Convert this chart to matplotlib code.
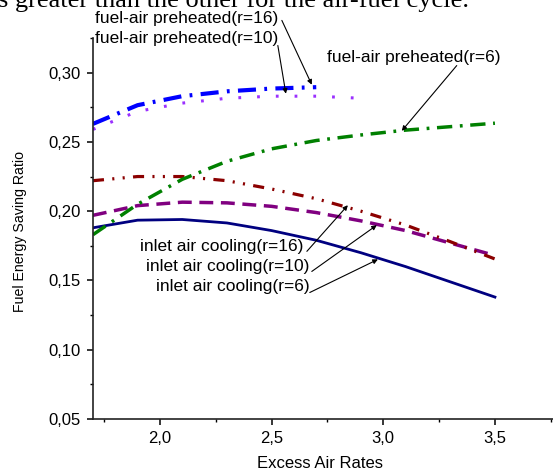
import numpy as np
import matplotlib
matplotlib.use('Agg')
import matplotlib.pyplot as plt
from matplotlib.ticker import MultipleLocator

plt.rcParams['font.family'] = ['Liberation Sans', 'DejaVu Sans']
plt.rcParams['lines.scale_dashes'] = False

# excess air rates
x = [1.7, 1.9, 2.1, 2.3, 2.5, 2.7, 2.9, 3.1, 3.3, 3.5]
# inlet air cooling
cool_r6 = [0.188, 0.1935, 0.194, 0.1915, 0.186, 0.179, 0.170, 0.160, 0.149, 0.138]
cool_r10 = [0.197, 0.204, 0.2065, 0.206, 0.2035, 0.199, 0.193, 0.186, 0.177, 0.168]
cool_r16 = [0.222, 0.225, 0.225, 0.222, 0.216, 0.209, 0.200, 0.190, 0.178, 0.1655]
# fuel-air preheated
pre_r6 = [0.183, 0.205, 0.223, 0.236, 0.245, 0.251, 0.255, 0.2585, 0.261, 0.2635]
x_r10 = [1.7, 1.9, 2.1, 2.3, 2.5, 2.7, 2.9]
pre_r10 = [0.259, 0.272, 0.278, 0.2815, 0.283, 0.283, 0.2815]
x_r16 = [1.7, 1.9, 2.1, 2.3, 2.5, 2.7]
pre_r16 = [0.263, 0.2765, 0.283, 0.2865, 0.2885, 0.2895]

yticks = [0.05, 0.10, 0.15, 0.20, 0.25, 0.30]
ytick_labels = ['0,05', '0,10', '0,15', '0,20', '0,25', '0,30']
xticks = [2.0, 2.5, 3.0, 3.5]
xtick_labels = ['2,0', '2,5', '3,0', '3,5']

fig = plt.figure(figsize=(5.53, 4.72), dpi=100)
ax = fig.add_axes([0.168, 0.1123, 0.832, 0.8072])

ax.plot(x, cool_r6, color='#000080', lw=2.0)
ax.plot(x, cool_r10, color='#800080', lw=2.5, dashes=(10, 5.5))
ax.plot(x, cool_r16, color='#8B0000', lw=2.3, dashes=(8, 6, 1.5, 6, 1.5, 6))
ax.plot(x, pre_r6, color='#008000', lw=2.5, dashes=(11, 5.5, 2, 5.5))
ax.plot(x_r10, pre_r10, color='#9B30FF', lw=2.2, dashes=(2, 11.5))
ax.plot(x_r16, pre_r16, color='#0000FF', lw=3.0, dashes=(13, 6, 2, 6))

ax.set_xlim(1.7, 3.76)
ax.set_ylim(0.05, 0.325)
ax.set_xticks(xticks)
ax.set_xticklabels(xtick_labels)
ax.set_yticks(yticks)
ax.set_yticklabels(ytick_labels)
ax.xaxis.set_minor_locator(MultipleLocator(0.25))
ax.yaxis.set_minor_locator(MultipleLocator(0.025))
ax.tick_params(which='major', direction='out', length=4.5, width=1.1, labelsize=12, pad=4)
ax.tick_params(which='minor', direction='out', length=2.5, width=1.0)
ax.spines['top'].set_visible(False)
ax.spines['right'].set_visible(False)
for s in ['left', 'bottom']:
    ax.spines[s].set_linewidth(1.2)
    ax.spines[s].set_color('#222222')

fig.text(0.579, 0.017, 'Excess Air Rates', ha='center', va='center', fontsize=12)
fig.text(0.036, 0.51, 'Fuel Energy Saving Ratio', ha='center', va='center',
         rotation=90, fontsize=10.2)

# labels with arrows
labels = [
    ('fuel-air preheated(r=16)', (1.709, 0.339), (2.546, 0.3377), (2.680, 0.2913)),
    ('fuel-air preheated(r=10)', (1.709, 0.3246), (2.528, 0.3196), (2.564, 0.2848)),
    ('fuel-air preheated(r=6)', (2.7475, 0.3109), (3.329, 0.3051), (3.083, 0.2580)),
    ('inlet air cooling(r=16)', (1.910, 0.1746), (2.658, 0.1710), (2.8415, 0.2043)),
    ('inlet air cooling(r=10)', (1.937, 0.1601), (2.680, 0.1565), (2.971, 0.1899)),
    ('inlet air cooling(r=6)', (1.982, 0.1457), (2.671, 0.1413), (2.976, 0.1652)),
]
for txt, tpos, start, end in labels:
    ax.text(tpos[0], tpos[1], txt, ha='left', va='center', fontsize=12.5, clip_on=False)
    ax.annotate('', xy=end, xytext=start, annotation_clip=False,
                arrowprops=dict(arrowstyle='-|>', color='black', lw=0.8,
                                mutation_scale=7, shrinkA=0, shrinkB=0))

# cut-off line of text from the page above the chart
fig.text(-0.004, 0.985, 's greater than the other for the air-fuel cycle.',
         ha='left', va='baseline', fontsize=19, family=['Liberation Serif'])

fig.savefig('out.png', dpi=100)
